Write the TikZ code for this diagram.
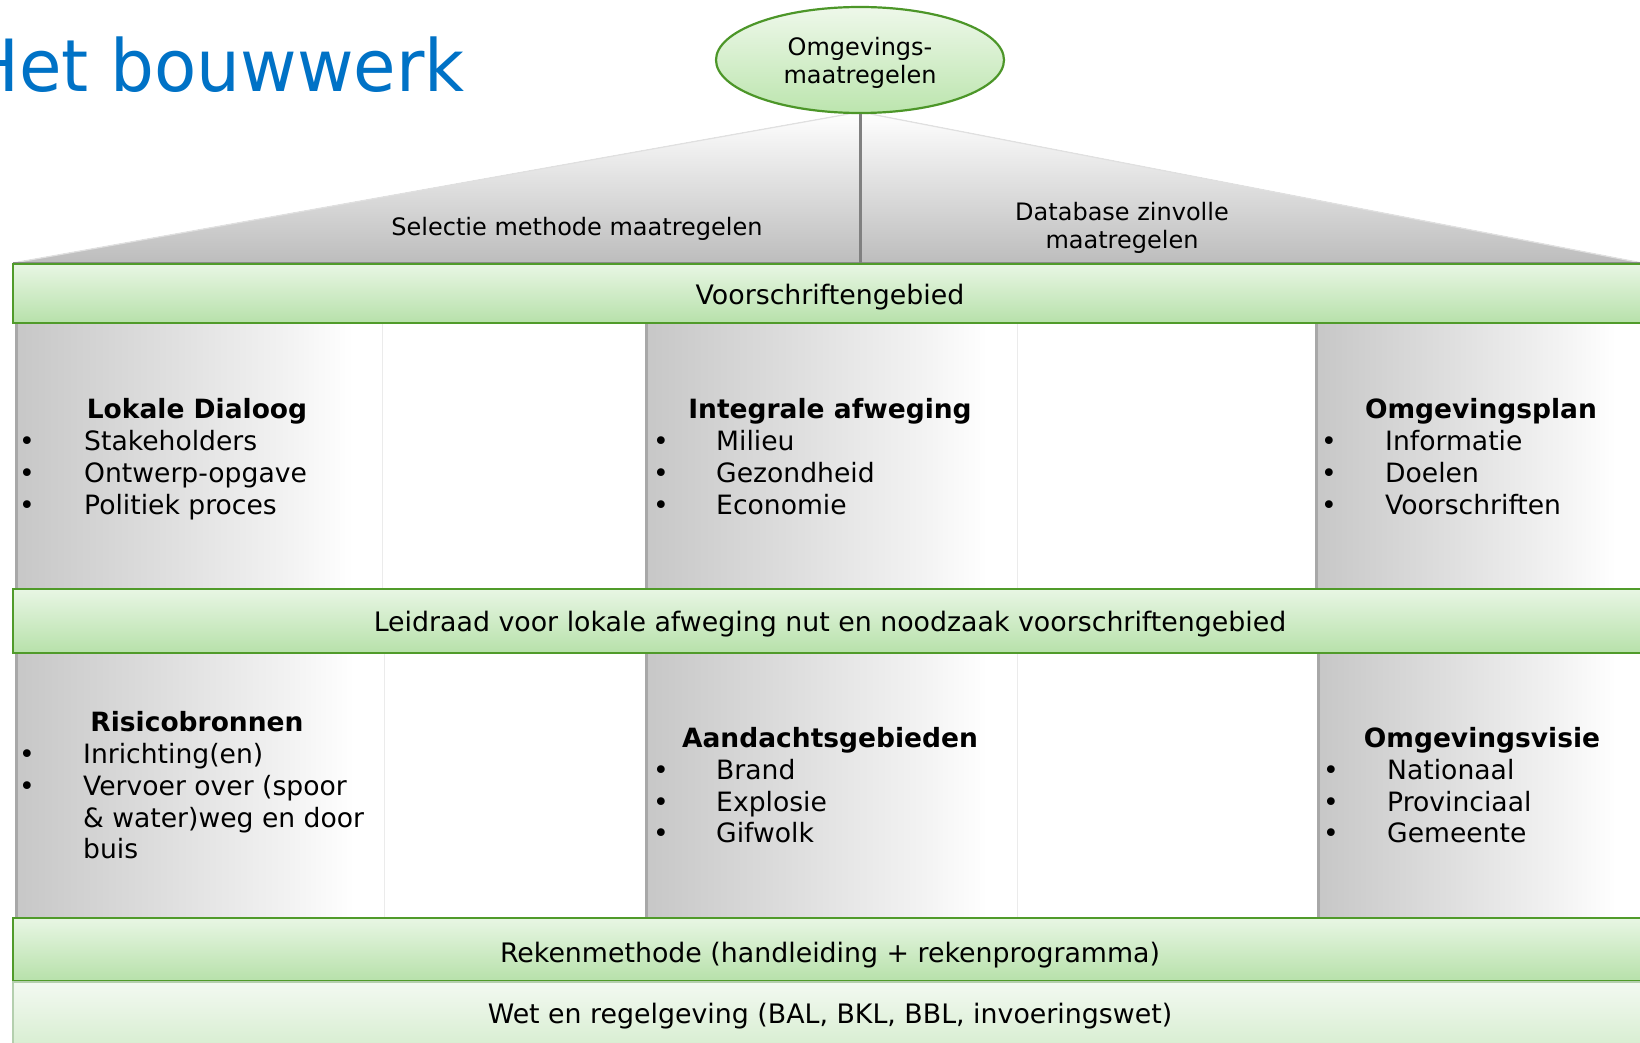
\documentclass[tikz,border=0pt]{standalone}
\usepackage{fontspec}
\setmainfont{DejaVu Sans}
\usetikzlibrary{shapes.geometric}
\definecolor{titleblue}{RGB}{0,114,198}
\definecolor{bandtop}{RGB}{232,246,228}
\definecolor{bandbot}{RGB}{183,225,170}
\definecolor{bandline}{RGB}{80,155,42}
\definecolor{basetop}{RGB}{243,249,241}
\definecolor{basebot}{RGB}{214,237,207}
\definecolor{basebord}{RGB}{180,207,174}
\definecolor{elltop}{RGB}{238,248,234}
\definecolor{ellbot}{RGB}{188,229,174}
\definecolor{ellline}{RGB}{76,150,40}
\pgfdeclarehorizontalshading{pillarshade}{100bp}{color(0bp)=(black!22); color(25bp)=(black!22); color(45bp)=(black!13); color(62bp)=(black!5); color(71bp)=(white); color(100bp)=(white)}
\tikzset{
  body/.style={font=\fontsize{26.6}{31}\selectfont, inner sep=0pt},
  head/.style={font=\fontsize{26.5}{31}\selectfont\bfseries, inner sep=0pt, anchor=base},
  item/.style={body, anchor=base west},
  bul/.style={body, anchor=base},
  bandtxt/.style={font=\fontsize{26.8}{31}\selectfont, inner sep=0pt, anchor=base},
  rooftxt/.style={font=\fontsize{24}{29}\selectfont, inner sep=0pt, anchor=base},
  pillar/.style={shading=pillarshade},
  pillaredge/.style={draw=black!34, line width=3pt},
  band/.style={top color=bandtop, bottom color=bandbot},
  bandedge/.style={draw=bandline, line width=2.2pt},
  baseband/.style={top color=basetop, bottom color=basebot},
  baseedge/.style={draw=basebord, line width=2pt},
  roof/.style={top color=white, bottom color=black!26},
  roofslope/.style={draw=black!12, line width=1.2pt},
  roofbase/.style={draw=black!45, line width=2.5pt},
}
\begin{document}
\begin{tikzpicture}[x=1pt, y=-1pt]
\useasboundingbox (0,0) rectangle (1640,1043);
\clip (0,0) rectangle (1640,1043);
\fill[white] (0,0) rectangle (1640,1043);

% title
\node[anchor=base east, inner sep=0pt, text=titleblue, font=\fontsize{72}{84}\selectfont] (title) at (465,92) {\scalebox{0.96}[1]{Het bouwwerk}};

% roof
\coordinate (apex) at (860,112);
\coordinate (rl) at (13,263);
\coordinate (rr) at (1642,263);
\coordinate (rm) at (860,263);
\fill[roof] (rl) -- (apex) -- (rm) -- cycle;
\fill[roof] (apex) -- (rr) -- (rm) -- cycle;
\draw[roofslope] (rl) -- (apex) -- (rr);
\draw[roofbase] (rl) -- (rr);

% pillars row 1
\fill[pillar] (15,323) rectangle (382,589);
\fill[pillar] (645,323) rectangle (1017,589);
\fill[pillar] (1315,323) rectangle (1642,589);
% pillars row 2
\fill[pillar] (15,653) rectangle (384,918);
\fill[pillar] (645,653) rectangle (1017,918);
\fill[pillar] (1317,653) rectangle (1642,918);
\draw[pillaredge] (16.5,323) -- (16.5,589);
\draw[pillaredge] (646.5,323) -- (646.5,589);
\draw[pillaredge] (1316.5,323) -- (1316.5,589);
\draw[pillaredge] (16.5,653) -- (16.5,918);
\draw[pillaredge] (646.5,653) -- (646.5,918);
\draw[pillaredge] (1318.5,653) -- (1318.5,918);
\draw[black!8, line width=1pt] (382,323) -- (382,589) (1017,323) -- (1017,589) (384,653) -- (384,918) (1017,653) -- (1017,918);

% bands
\fill[band] (13,264) rectangle (1645,323);
\draw[bandedge] (1645,264) -- (13,264) -- (13,323) -- (1645,323);
\fill[band] (13,589) rectangle (1645,653);
\draw[bandedge] (1645,589) -- (13,589) -- (13,653) -- (1645,653);
\fill[band] (13,918) rectangle (1645,981);
\draw[bandedge] (1645,918) -- (13,918) -- (13,981) -- (1645,981);
\fill[baseband] (13,982) rectangle (1645,1050);
\draw[baseedge] (1645,982) -- (13,982) -- (13,1050);

% ellipse + connector
\node[ellipse, draw=ellline, line width=2.2pt, top color=elltop, bottom color=ellbot,
      minimum width=288pt, minimum height=106pt, inner sep=0pt] (ell) at (860,60) {};
\node[align=center, inner sep=0pt, font=\fontsize{24}{28}\selectfont] (ellt) at (860,63) {Omgevings-\\maatregelen};
\draw[black!50, line width=3pt] (ell.south) -- (rm);

% roof texts
\node[rooftxt] (sel) at (577,235) {Selectie methode maatregelen};
\node[rooftxt] (db1) at (1122,220) {Database zinvolle};
\node[rooftxt] (db2) at (1122,248) {maatregelen};

% band texts
\node[bandtxt] (b1) at (830,304) {Voorschriftengebied};
\node[bandtxt] (b2) at (830,631) {Leidraad voor lokale afweging nut en noodzaak voorschriftengebied};
\node[bandtxt] (b3) at (830,962) {Rekenmethode (handleiding + rekenprogramma)};
\node[bandtxt] (b4) at (830,1023) {Wet en regelgeving (BAL, BKL, BBL, invoeringswet)};

% row 1 left
\node[head] (h1) at (197,418) {Lokale Dialoog};
\node[bul] (p1a) at (27,450) {•}; \node[item] (t1a) at (84,450) {Stakeholders};
\node[bul] (p1b) at (27,482) {•}; \node[item] (t1b) at (84,482) {Ontwerp-opgave};
\node[bul] (p1c) at (27,514) {•}; \node[item] (t1c) at (84,514) {Politiek proces};
% row 1 middle
\node[head] (h2) at (830,418) {Integrale afweging};
\node[bul] (p2a) at (661,450) {•}; \node[item] (t2a) at (716,450) {Milieu};
\node[bul] (p2b) at (661,482) {•}; \node[item] (t2b) at (716,482) {Gezondheid};
\node[bul] (p2c) at (661,514) {•}; \node[item] (t2c) at (716,514) {Economie};
% row 1 right
\node[head] (h3) at (1481,418) {Omgevingsplan};
\node[bul] (p3a) at (1329,450) {•}; \node[item] (t3a) at (1385,450) {Informatie};
\node[bul] (p3b) at (1329,482) {•}; \node[item] (t3b) at (1385,482) {Doelen};
\node[bul] (p3c) at (1329,514) {•}; \node[item] (t3c) at (1385,514) {Voorschriften};

% row 2 left
\node[head] (h4) at (197,731) {Risicobronnen};
\node[bul] (p4a) at (27,763) {•}; \node[item] (t4a) at (83,763) {Inrichting(en)};
\node[bul] (p4b) at (27,795) {•}; \node[item] (t4b) at (83,795) {Vervoer over (spoor};
\node[item] (t4c) at (83,827) {\& water)weg en door};
\node[item] (t4d) at (83,858) {buis};
% row 2 middle
\node[head] (h5) at (830,747) {Aandachtsgebieden};
\node[bul] (p5a) at (661,779) {•}; \node[item] (t5a) at (716,779) {Brand};
\node[bul] (p5b) at (661,811) {•}; \node[item] (t5b) at (716,811) {Explosie};
\node[bul] (p5c) at (661,842) {•}; \node[item] (t5c) at (716,842) {Gifwolk};
% row 2 right
\node[head] (h6) at (1482,747) {Omgevingsvisie};
\node[bul] (p6a) at (1331,779) {•}; \node[item] (t6a) at (1387,779) {Nationaal};
\node[bul] (p6b) at (1331,811) {•}; \node[item] (t6b) at (1387,811) {Provinciaal};
\node[bul] (p6c) at (1331,842) {•}; \node[item] (t6c) at (1387,842) {Gemeente};
\end{tikzpicture}
\end{document}
